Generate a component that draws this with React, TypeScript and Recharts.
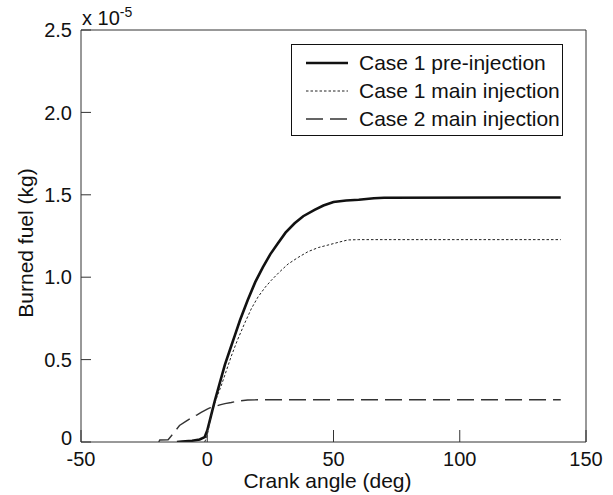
import { LineChart, Line, XAxis, YAxis, ReferenceLine } from 'recharts'

// crank angle (deg) vs burned fuel (x 1e-5 kg)
const preAngle = [-12, -10, -6, -3, -1, 0, 1, 2, 3, 5, 7, 9, 11, 13, 16, 19, 22, 25, 28, 31, 34.6, 38, 42.5, 46, 50, 55, 60, 66, 70, 140]
const preBurned = [0, 0.003, 0.008, 0.015, 0.03, 0.07, 0.13, 0.19, 0.25, 0.36, 0.47, 0.56, 0.65, 0.74, 0.86, 0.97, 1.06, 1.14, 1.206, 1.27, 1.327, 1.37, 1.408, 1.435, 1.456, 1.465, 1.47, 1.479, 1.482, 1.484]

const mainAngle = [-1, 0, 1, 2, 4, 5.5, 7.5, 9.5, 12, 14.8, 17.5, 20.1, 23, 25.3, 28.5, 32, 36, 39.9, 44, 47.8, 52, 55.7, 60, 140]
const mainBurned = [0, 0.04, 0.12, 0.19, 0.28, 0.34, 0.43, 0.52, 0.62, 0.72, 0.81, 0.88, 0.94, 0.98, 1.03, 1.08, 1.12, 1.155, 1.18, 1.195, 1.212, 1.226, 1.228, 1.228]

const case2Angle = [-19.2, -18.8, -15.5, -13, -11, -8.5, -6, -4, -2.4, 0, 1, 3, 5, 7, 9.5, 12, 16, 20, 140]
const case2Burned = [0, 0.012, 0.014, 0.06, 0.1, 0.125, 0.15, 0.165, 0.18, 0.2, 0.207, 0.215, 0.225, 0.233, 0.24, 0.248, 0.255, 0.256, 0.256]

const xTicks = [-50, 0, 50, 100, 150]
const yTicks = [0, 0.5, 1, 1.5, 2, 2.5]
const yTickLabels = ['0', '0.5', '1.0', '1.5', '2.0', '2.5']

const seriesNames = ['Case 1 pre-injection', 'Case 1 main injection', 'Case 2 main injection']

const toRows = (xs: number[], ys: number[]) => xs.map((angle, i) => ({ angle, burned: ys[i] }))

const FONT = '"Liberation Sans", Arial, Helvetica, sans-serif'
const AXIS = '#333'

const seriesStyle = [
  { stroke: '#111', strokeWidth: 2.6, dash: undefined as string | undefined },
  { stroke: '#222', strokeWidth: 1, dash: '2.5 2' },
  { stroke: '#333', strokeWidth: 1.4, dash: '17 7' },
]

function XTick(props: any) {
  const { x, y, payload } = props
  const axisY = y - 10
  return (
    <g>
      <line x1={x} x2={x} y1={axisY} y2={axisY - 12} stroke={AXIS} />
      <text x={x} y={y} dy="0.71em" textAnchor="middle" fontSize={20} fontFamily={FONT} fill="#111">
        {payload.value}
      </text>
    </g>
  )
}

function YTick(props: any) {
  const { x, y, payload } = props
  const axisX = x + 9
  const idx = yTicks.indexOf(payload.value)
  // the bottom label sits a little higher so it clears the -50 below it
  const shift = payload.value === 0 ? -4 : 0
  return (
    <g>
      <line x1={axisX} x2={axisX + 10} y1={y} y2={y} stroke={AXIS} />
      <text x={x} y={y + shift} dy="0.355em" textAnchor="end" fontSize={20} fontFamily={FONT} fill="#111">
        {yTickLabels[idx]}
      </text>
    </g>
  )
}

export default function App() {
  const series = [toRows(preAngle, preBurned), toRows(mainAngle, mainBurned), toRows(case2Angle, case2Burned)]

  return (
    <div style={{ position: 'absolute', left: 0, top: 0, width: 613, height: 495, background: '#fff', fontFamily: FONT }}>
      <LineChart width={613} height={495} margin={{ top: 30, right: 27, bottom: 0, left: 0 }}>
        <XAxis
          type="number"
          dataKey="angle"
          domain={[-50, 150]}
          ticks={xTicks}
          allowDataOverflow
          height={53}
          tickSize={0}
          tickMargin={10}
          axisLine={{ stroke: AXIS }}
          tickLine={false}
          tick={(p: any) => <XTick {...p} />}
          label={{
            content: (p: any) => {
              const vb = p.viewBox
              return (
                <text x={vb.x + vb.width / 2 - 6} y={vb.y + 46} textAnchor="middle" fontSize={21} fontFamily={FONT} fill="#111">
                  Crank angle (deg)
                </text>
              )
            },
          }}
        />
        <YAxis
          type="number"
          domain={[0, 2.5]}
          ticks={yTicks}
          allowDataOverflow
          width={81}
          tickSize={0}
          tickMargin={9}
          axisLine={{ stroke: AXIS }}
          tickLine={false}
          tick={(p: any) => <YTick {...p} />}
          label={{
            content: (p: any) => {
              const vb = p.viewBox
              const cy = vb.y + vb.height / 2 + 7
              return (
                <g>
                  <text transform={`rotate(-90, 33, ${cy})`} x={33} y={cy} textAnchor="middle" fontSize={21} fontFamily={FONT} fill="#111">
                    Burned fuel (kg)
                  </text>
                  <text x={vb.x + vb.width + 1} y={vb.y - 5} fontSize={20} fontFamily={FONT} fill="#111">
                    x 10<tspan fontSize={14} dy={-8}>-5</tspan>
                  </text>
                </g>
              )
            },
          }}
        />
        <ReferenceLine y={2.5} stroke={AXIS} />
        <ReferenceLine x={150} stroke={AXIS} />
        {series.map((rows, i) => (
          <Line
            key={seriesNames[i]}
            data={rows}
            dataKey="burned"
            name={seriesNames[i]}
            type="linear"
            stroke={seriesStyle[i].stroke}
            strokeWidth={seriesStyle[i].strokeWidth}
            strokeDasharray={seriesStyle[i].dash}
            dot={false}
            activeDot={false}
            isAnimationActive={false}
          />
        ))}
      </LineChart>
      <svg width={613} height={495} style={{ position: 'absolute', left: 0, top: 0, pointerEvents: 'none' }}>
        <rect x={291.5} y={44.5} width={271} height={91} fill="#fff" stroke="#111" />
        {seriesNames.map((name, i) => {
          const cy = 63 + i * 28
          return (
            <g key={name}>
              <line x1={306} x2={348} y1={cy} y2={cy} stroke={seriesStyle[i].stroke} strokeWidth={seriesStyle[i].strokeWidth} strokeDasharray={seriesStyle[i].dash} />
              <text x={359} y={cy} dy="0.355em" fontSize={21} fontFamily={FONT} fill="#111">
                {name}
              </text>
            </g>
          )
        })}
      </svg>
    </div>
  )
}
